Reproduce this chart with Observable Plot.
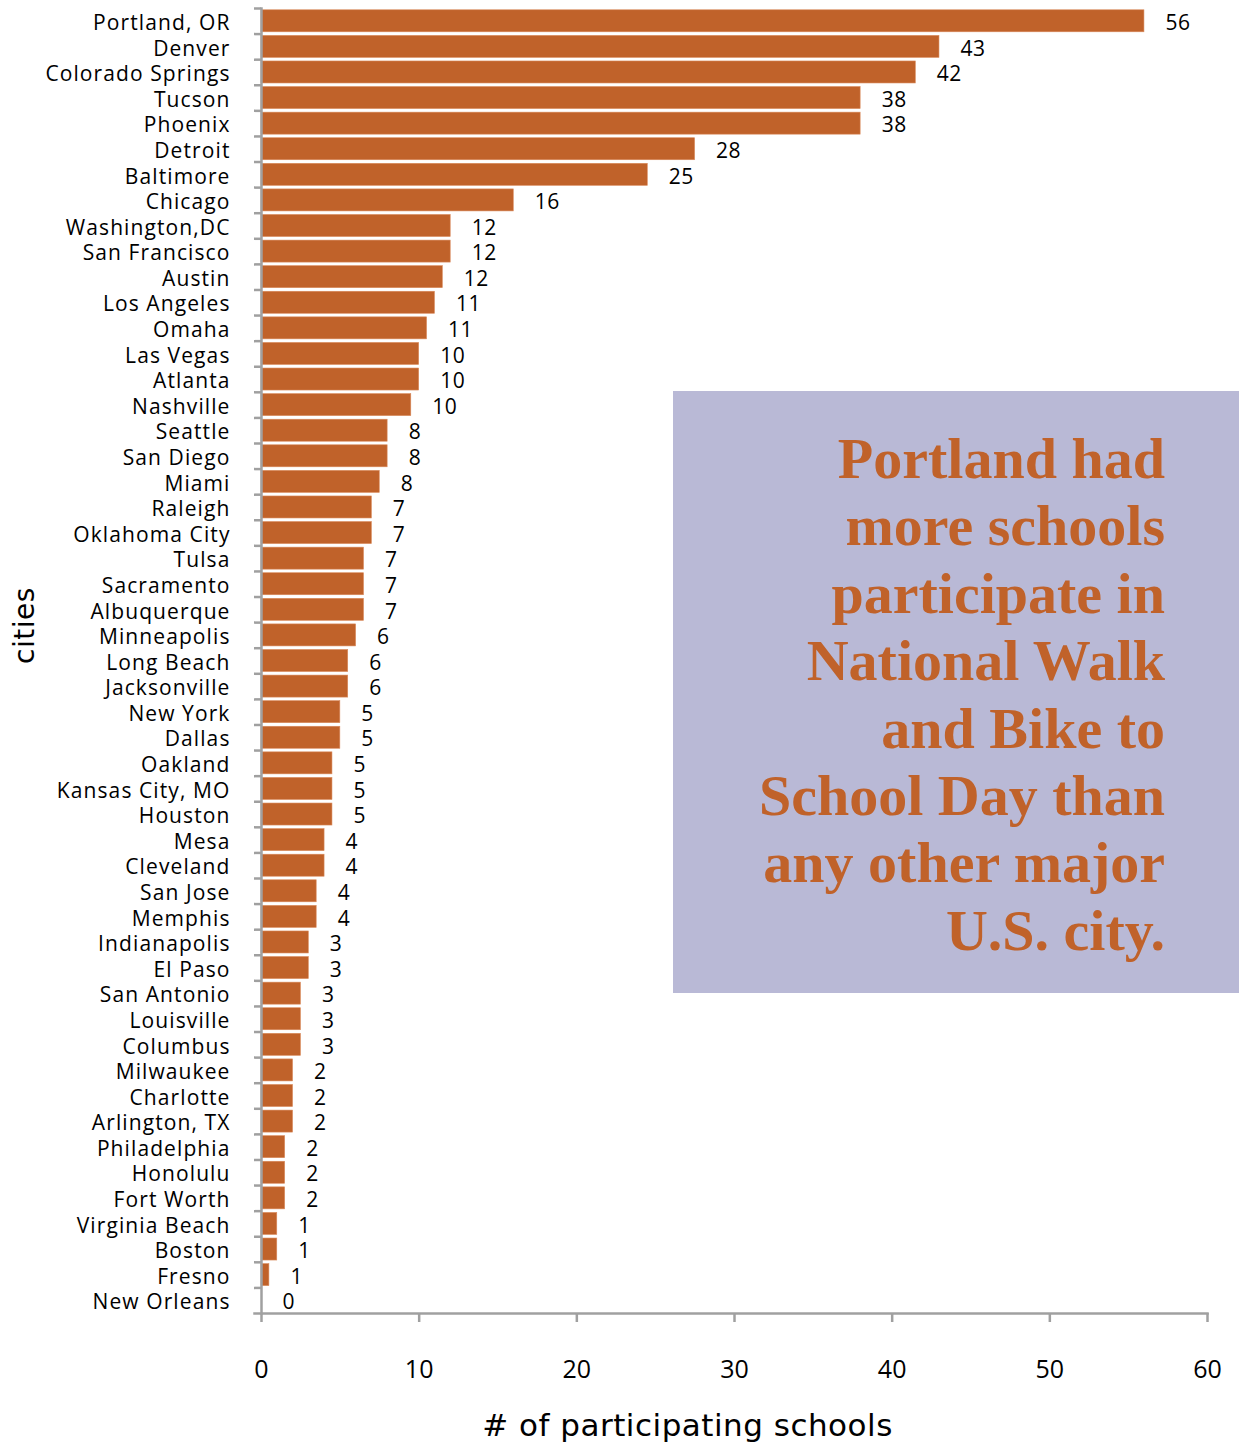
<!DOCTYPE html>
<html>
<head>
<meta charset="utf-8">
<script src="https://cdn.jsdelivr.net/npm/d3@7"></script>
<script src="https://cdn.jsdelivr.net/npm/@observablehq/plot@0.6"></script>
<style>
  html, body { margin: 0; padding: 0; background: #fff; }
  #wrap { position: relative; width: 1239px; height: 1443px; }
  #note {
    position: absolute; left: 673px; top: 391px; width: 566px; height: 602px;
    background: #b9b9d6; box-sizing: border-box; padding-right: 74px; padding-top: 34px;
    text-align: right; color: #c0622a;
    font-family: "Liberation Serif", serif; font-weight: bold; font-size: 58px; line-height: 67.4px;
  }
  g[aria-label="y-axis tick label"] text { letter-spacing: 1.1px; }
  g[aria-label="text"] text { letter-spacing: 0.5px; }
</style>
</head>
<body>
<div id="wrap"><div id="chart"></div><div id="note">Portland had<br>more schools<br>participate in<br>National Walk<br>and Bike to<br>School Day than<br>any other major<br>U.S. city.</div></div>
<script>
const cities = ["Portland, OR","Denver","Colorado Springs","Tucson","Phoenix","Detroit","Baltimore","Chicago","Washington,DC","San Francisco","Austin","Los Angeles","Omaha","Las Vegas","Atlanta","Nashville","Seattle","San Diego","Miami","Raleigh","Oklahoma City","Tulsa","Sacramento","Albuquerque","Minneapolis","Long Beach","Jacksonville","New York","Dallas","Oakland","Kansas City, MO","Houston","Mesa","Cleveland","San Jose","Memphis","Indianapolis","El Paso","San Antonio","Louisville","Columbus","Milwaukee","Charlotte","Arlington, TX","Philadelphia","Honolulu","Fort Worth","Virginia Beach","Boston","Fresno","New Orleans"];
// bar lengths as drawn in the picture
const barValues = [56,43,41.5,38,38,27.5,24.5,16,12,12,11.5,11,10.5,10,10,9.5,8,8,7.5,7,7,6.5,6.5,6.5,6,5.5,5.5,5,5,4.5,4.5,4.5,4,4,3.5,3.5,3,3,2.5,2.5,2.5,2,2,2,1.5,1.5,1.5,1,1,0.5,0];
// value labels as printed
const labels = [56,43,42,38,38,28,25,16,12,12,12,11,11,10,10,10,8,8,8,7,7,7,7,7,6,6,6,5,5,5,5,5,4,4,4,4,3,3,3,3,3,2,2,2,2,2,2,1,1,1,0];
const xTicks = [0,10,20,30,40,50,60];

const data = cities.map((c, i) => ({city: c, bar: barValues[i], label: labels[i]}));

const W = 1239, H = 1443;
const mT = 8, mB = 130, mL = 261, mR = 32;
const band = (H - mT - mB) / cities.length;
const axisColor = "#a0a0a0";
const font = "'Open Sans', 'Noto Sans', sans-serif";

const chart = Plot.plot({
  width: W, height: H,
  marginTop: mT, marginBottom: mB, marginLeft: mL, marginRight: mR,
  style: {fontFamily: font, fontSize: "21px", color: "#000", background: "#fff"},
  x: {domain: [0, 60], ticks: xTicks},
  y: {domain: cities, paddingInner: 0.14, paddingOuter: 0.07, round: false, label: null},
  marks: [
    Plot.barX(data, {x: "bar", y: "city", fill: "#c0622a", stroke: "#d98a5c", strokeWidth: 0.6}),
    Plot.text(data, {x: "bar", y: "city", text: "label", textAnchor: "start", dx: 21, dy: 2, fontSize: 21, fill: "#000"}),
    Plot.axisY({tickSize: 0, tickPadding: 31, fontSize: 21, dy: 2, label: null}),
    Plot.axisY({tickSize: 7, text: null, dy: -band / 2, stroke: axisColor, strokeWidth: 2.5, label: null}),
    Plot.frame({anchor: "left", stroke: axisColor, strokeWidth: 2.5}),
    Plot.frame({anchor: "bottom", stroke: axisColor, strokeWidth: 2.5, insetLeft: -7}),
    Plot.axisX({ticks: xTicks, tickSize: 9, tickPadding: 38, fontSize: 25, stroke: axisColor, strokeWidth: 2.5, label: null}),
    Plot.text(["# of participating schools"], {frameAnchor: "bottom", dy: 122, dx: -47, fontSize: 31, fontFamily: "'DejaVu Sans', sans-serif", fill: "#000"}),
    Plot.text(["cities"], {frameAnchor: "left", dx: -236, dy: 3, rotate: -90, fontSize: 28, fontFamily: "'DejaVu Sans', sans-serif", fill: "#000"})
  ]
});
document.getElementById("chart").appendChild(chart);
</script>
</body>
</html>
